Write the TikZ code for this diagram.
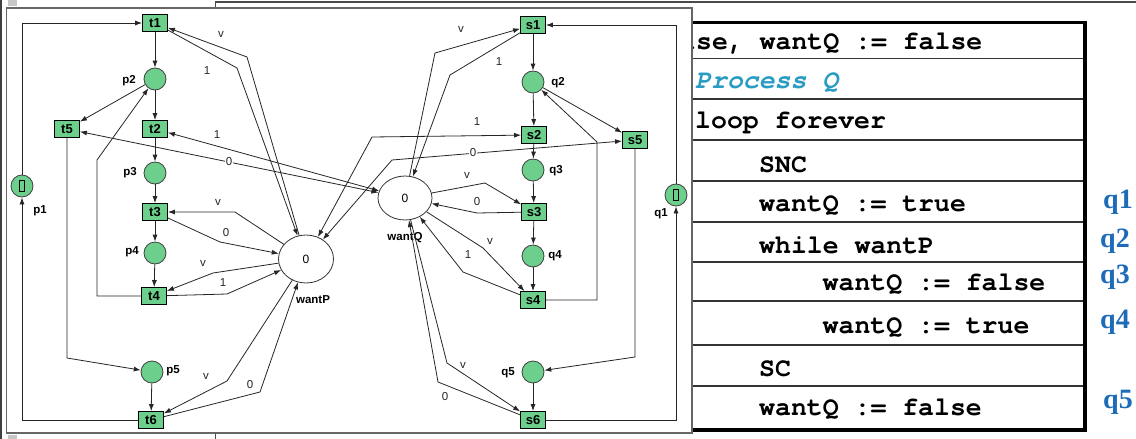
\documentclass[tikz,border=0pt]{standalone}
\usepackage{fontspec}
\setmainfont{Liberation Serif}
\setsansfont{Liberation Sans}
\setmonofont{TeX Gyre Cursor}
\usetikzlibrary{arrows.meta,shapes.geometric}
\definecolor{netgreen}{HTML}{6CCF8C}
\definecolor{procblue}{HTML}{2A9CC4}
\definecolor{lineblue}{HTML}{1E6CB8}
\definecolor{framegray}{HTML}{4A4A4A}
\begin{document}
\begin{tikzpicture}[x=1pt,y=-1pt,
  >={Latex[length=7pt,width=5pt]},
  trans/.style={draw=black, line width=0.8pt, fill=netgreen, minimum width=25pt, minimum height=17pt,
    inner sep=0pt, font=\sffamily\bfseries\fontsize{13}{13}\selectfont},
  place/.style={circle, draw=black!75, line width=0.8pt, fill=netgreen, minimum size=22pt, inner sep=0pt},
  var/.style={ellipse, draw=black!80, line width=0.8pt, fill=white, inner sep=0pt,
    font=\sffamily\fontsize{12}{12}\selectfont},
  tok/.style={draw=black, line width=0.9pt, minimum width=4.5pt, minimum height=11pt, inner sep=0pt},
  arc/.style={draw=black!85, line width=0.8pt, ->},
  arcb/.style={arc, <->},
  lbl/.style={font=\sffamily\bfseries\fontsize{11.5}{11.5}\selectfont, inner sep=0pt},
  wt/.style={font=\sffamily\fontsize{11.5}{11.5}\selectfont, text=black!85, inner sep=1pt},
  code/.style={anchor=base west, inner sep=0pt, font=\ttfamily\bfseries\fontsize{26.5}{26.5}\selectfont},
  qlab/.style={anchor=base west, inner sep=0pt, text=lineblue, font=\rmfamily\bfseries\fontsize{28}{28}\selectfont}
]
\useasboundingbox (0,0) rectangle (1136,439);
\fill[white] (0,0) rectangle (1136,439);

% ---------- window frame behind the net ----------
\draw[framegray, line width=2pt] (215,2) -- (1136,2);
\draw[framegray, line width=1pt] (215,2) -- (215,8);
\draw[framegray, line width=1pt] (215,433) -- (215,439);
\draw[black!75, line width=1.2pt] (1,0) -- (1,439);
\fill[black!22] (8,0) rectangle (17,6);
\fill[black!22] (8,435) rectangle (17,439);

% ---------- program table ----------
\begin{scope}
  \clip (692,0) rectangle (1136,439);
  \foreach \y in {58.3,99,140,181,222,262,301,345,386}
    \draw[black!80, line width=1.4pt] (600,\y) -- (1085,\y);
  \draw[black, line width=3.5pt, line join=miter] (600,22.5) -- (1085,22.5) -- (1085,430) -- (600,430);
  \node[code] (c1) at (680,49) {lse, wantQ := false};
  \node[code, text=procblue, font=\ttfamily\bfseries\itshape\fontsize{26.5}{26.5}\selectfont] (c2) at (695,88) {Process Q};
  \node[code] (c3) at (695,128) {loop forever};
  \node[code] (c4) at (759,172) {SNC};
  \node[code] (c5) at (759,211) {wantQ := true};
  \node[code] (c6) at (759,253) {while wantP};
  \node[code] (c7) at (822.5,290) {wantQ := false};
  \node[code] (c8) at (822.5,333) {wantQ := true};
  \node[code] (c9) at (759,376) {SC};
  \node[code] (c10) at (759,415) {wantQ := false};
\end{scope}
\node[qlab] (lq1) at (1103,208) {q1};
\node[qlab] (lq2) at (1100,247) {q2};
\node[qlab] (lq3) at (1100,283) {q3};
\node[qlab] (lq4) at (1100,328) {q4};
\node[qlab] (lq5) at (1103,408) {q5};

% ---------- Petri net panel ----------
\draw[fill=white, draw=black!60, line width=1.2pt] (6.5,8) rectangle (692,433);

% process P
\node[trans] (t1) at (155,23) {t1};
\node[place] (p2) at (155,79) {};
\node[trans] (t2) at (155,129) {t2};
\node[trans] (t5) at (67,129) {t5};
\node[place] (p3) at (155,173) {};
\node[trans] (t3) at (155,212) {t3};
\node[place] (p4) at (155,253) {};
\node[trans] (t4) at (154,296) {t4};
\node[place] (p5) at (152,372) {};
\node[trans] (t6) at (151,420) {t6};
\node[place] (p1) at (22,186) {};
\node[tok] (k1) at (p1) {};

% process Q
\node[trans] (s1) at (533,25) {s1};
\node[place] (q2) at (533,82) {};
\node[trans] (s2) at (534,135) {s2};
\node[trans] (s5) at (635,140) {s5};
\node[place] (q3) at (533,170) {};
\node[trans] (s3) at (534,212) {s3};
\node[place] (q4) at (533,256) {};
\node[trans] (s4) at (533,300) {s4};
\node[place] (q5) at (533,372) {};
\node[trans] (s6) at (533,420) {s6};
\node[place] (q1) at (676,195) {};
\node[tok] (k2) at (q1) {};

% shared variables
\node[var, minimum width=55pt, minimum height=48pt] (wantP) at (306,259) {0};
\node[var, minimum width=54pt, minimum height=44pt] (wantQ) at (405,198) {0};

% place and variable names
\node[lbl] (n1) at (40,211) {p1};
\node[lbl] (n2) at (129,81) {p2};
\node[lbl] (n3) at (130,173) {p3};
\node[lbl] (n4) at (132,252) {p4};
\node[lbl] (n5) at (173,371) {p5};
\node[lbl] (m1) at (661,214) {q1};
\node[lbl] (m2) at (558,83) {q2};
\node[lbl] (m3) at (556,171) {q3};
\node[lbl] (m4) at (555,256) {q4};
\node[lbl] (m5) at (508,373) {q5};
\node[lbl] (nP) at (313,300) {wantP};
\node[lbl] (nQ) at (405,238) {wantQ};

% control flow of P
\draw[arc] (p1) |- (t1);
\draw[arc] (t1) -- (p2);
\draw[arc] (p2) -- (t2);
\draw[arc] (t2) -- (p3);
\draw[arc] (p3) -- (t3);
\draw[arc] (t3) -- (p4);
\draw[arc] (p4) -- (t4);
\draw[arc] (p2) -- (t5);
\draw[arc] (t4) -- (97,296) -- (97,160) -- (p2);
\draw[arc] (t5) -- (67,358) -- (p5);
\draw[arc] (p5) -- (t6);
\draw[arc] (t6) -| (p1);

% control flow of Q
\draw[arc] (q1) |- (s1);
\draw[arc] (s1) -- (q2);
\draw[arc] (q2) -- (s2);
\draw[arc] (s2) -- (q3);
\draw[arc] (q3) -- (s3);
\draw[arc] (s3) -- (q4);
\draw[arc] (q4) -- (s4);
\draw[arc] (q2) -- (s5);
\draw[arc] (s4) -- (597,300) -- (597,142) -- (q2);
\draw[arc] (s5) -- (635,357) -- (q5);
\draw[arc] (q5) -- (s6);
\draw[arc] (s6) -| (q1);

% P reads and writes wantP
\draw[arc] (wantP) -- (247,57) -- (t1);
\draw[arc] (t1) -- (237,68) -- (wantP);
\draw[arc] (wantP) -- (235,212) -- (t3);
\draw[arc] (t3) -- (220,242) -- (wantP);
\draw[arc] (wantP) -- (213,273) -- (t4);
\draw[arc] (t4) -- (227,294) -- (wantP);
\draw[arc] (wantP) -- (227,381) -- (t6);
\draw[arc] (t6) -- (260,392) -- (wantP);

% Q reads and writes wantQ
\draw[arc] (wantQ) -- (435,53) -- (s1);
\draw[arc] (s1) -- (450,75) -- (wantQ);
\draw[arc] (wantQ) -- (485,183) -- (s3);
\draw[arc] (s3) -- (477,213) -- (wantQ);
\draw[arc] (wantQ) -- (483,248) -- (s4);
\draw[arc] (s4) -- (463,272) -- (wantQ);
\draw[arc] (wantQ) -- (447,363) -- (s6);
\draw[arc] (s6) -- (438,382) -- (wantQ);

% tests of the other process's flag
\draw[arcb] (t2) -- (wantQ);
\draw[arcb] (t5) -- (wantQ);
\draw[arcb] (s2) -- (372,137) -- (wantP);
\draw[arcb] (s5) -- (392,160) -- (wantP);

% arc weights
\node[wt] (w1) at (221,34) {v};
\node[wt] (w2) at (207,71) {1};
\node[wt] (w3) at (217,135) {1};
\node[wt, fill=white] (w4) at (229,162) {0};
\node[wt] (w5) at (218,202) {v};
\node[wt] (w6) at (226,233) {0};
\node[wt] (w7) at (203,263) {v};
\node[wt] (w8) at (223,283) {1};
\node[wt] (w9) at (206,376) {v};
\node[wt] (w10) at (250,385) {0};
\node[wt] (u1) at (461,29) {v};
\node[wt] (u2) at (499,62) {1};
\node[wt] (u3) at (477,122) {1};
\node[wt, fill=white] (u4) at (473,153) {0};
\node[wt] (u5) at (467,175) {v};
\node[wt] (u6) at (477,202) {0};
\node[wt] (u7) at (490,241) {v};
\node[wt] (u8) at (468,255) {1};
\node[wt] (u9) at (463,365) {v};
\node[wt] (u10) at (445,397) {0};
\end{tikzpicture}
\end{document}
